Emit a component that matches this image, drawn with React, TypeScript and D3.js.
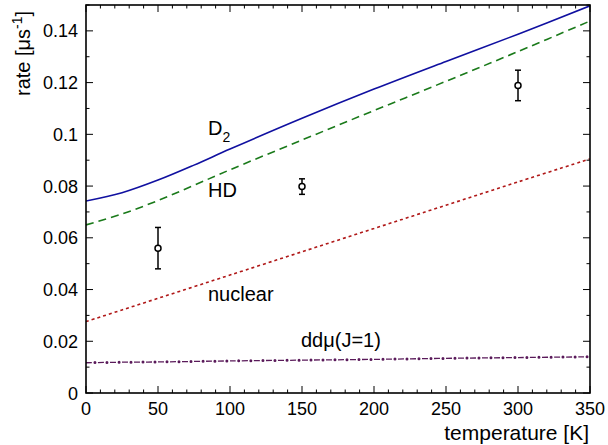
import React from "react";
import * as d3 from "d3";

const temps = [0, 25, 50, 75, 100, 150, 200, 250, 300, 350];
const d2Rate = [0.0742, 0.0774, 0.0823, 0.0881, 0.0943, 0.1062, 0.1175, 0.1282, 0.1387, 0.1497];
const hdRate = [0.0650, 0.0692, 0.0744, 0.0803, 0.0863, 0.0978, 0.1092, 0.1205, 0.1320, 0.1438];
const nuclearRate = [0.0276, 0.0321, 0.0366, 0.0411, 0.0456, 0.0546, 0.0636, 0.0726, 0.0816, 0.0905];
const ddmuRate = [0.0117, 0.0119, 0.0120, 0.0122, 0.0124, 0.0127, 0.0130, 0.0134, 0.0137, 0.0140];

const expT = [50, 150, 300];
const expRate = [0.056, 0.0798, 0.1189];
const expErr = [0.008, 0.003, 0.0059];

const xTicks = [0, 50, 100, 150, 200, 250, 300, 350];
const yTicks = [0, 0.02, 0.04, 0.06, 0.08, 0.1, 0.12, 0.14];

const W = 608, H = 445;
const L = 86, R = 590, T = 5, B = 393;
const FONT = "'Liberation Sans', Arial, Helvetica, sans-serif";

export default function App() {
  const x = d3.scaleLinear().domain([0, 350]).range([L, R]);
  const y = d3.scaleLinear().domain([0, 0.15]).range([B, T]);
  const mk = (vals: number[]) =>
    d3.line<number>().x((_, i) => x(temps[i])).y((v) => y(v)).curve(d3.curveCatmullRom)(vals) || "";

  const xMinor = d3.range(0, 351, 10);
  const yMinor = d3.range(0, 0.1501, 0.01);

  return (
    <svg width={W} height={H} style={{ position: "absolute", left: 0, top: 0, background: "#fff" }} fontFamily={FONT}>
      <defs>
        <clipPath id="plot">
          <rect x={L} y={T} width={R - L} height={B - T} />
        </clipPath>
      </defs>
      <g clipPath="url(#plot)">
        <path d={mk(nuclearRate)} fill="none" stroke="#b01818" strokeWidth={1.6} strokeDasharray="3 3" />
        <path d={mk(ddmuRate)} fill="none" stroke="#5a1a5a" strokeWidth={1.3} strokeDasharray="6 6" />
        <path d={mk(ddmuRate)} fill="none" stroke="#5a1a5a" strokeWidth={3} strokeLinecap="round" strokeDasharray="0 12" strokeDashoffset={-9} />
        <path d={mk(hdRate)} fill="none" stroke="#1a7a1a" strokeWidth={1.6} strokeDasharray="8 5" />
        <path d={mk(d2Rate)} fill="none" stroke="#1010a0" strokeWidth={1.6} />
      </g>
      {expT.map((t, i) => (
        <g key={i} stroke="#000" strokeWidth={1.5}>
          <line x1={x(t)} x2={x(t)} y1={y(expRate[i] + expErr[i])} y2={y(expRate[i] - expErr[i])} />
          <line x1={x(t) - 3} x2={x(t) + 3} y1={y(expRate[i] + expErr[i])} y2={y(expRate[i] + expErr[i])} />
          <line x1={x(t) - 3} x2={x(t) + 3} y1={y(expRate[i] - expErr[i])} y2={y(expRate[i] - expErr[i])} />
          <circle cx={x(t)} cy={y(expRate[i])} r={3} fill="#fff" />
        </g>
      ))}
      <g stroke="#000" strokeWidth={1}>
        {xMinor.map((v) => {
          const len = v % 50 === 0 ? 7 : 3.5;
          return (
            <g key={"x" + v}>
              <line x1={x(v)} x2={x(v)} y1={B} y2={B - len} />
              <line x1={x(v)} x2={x(v)} y1={T} y2={T + len} />
            </g>
          );
        })}
        {yMinor.map((v, i) => {
          const len = i % 2 === 0 ? 7 : 3.5;
          return (
            <g key={"y" + i}>
              <line x1={L} x2={L + len} y1={y(v)} y2={y(v)} />
              <line x1={R} x2={R - len} y1={y(v)} y2={y(v)} />
            </g>
          );
        })}
      </g>
      <rect x={L} y={T} width={R - L} height={B - T} fill="none" stroke="#000" strokeWidth={1.6} />
      {xTicks.map((v) => (
        <text key={v} x={x(v)} y={415} fontSize={18} textAnchor="middle" fill="#000">{v}</text>
      ))}
      {yTicks.map((v) => (
        <text key={v} x={78} y={y(v) + 6.5} fontSize={18} textAnchor="end" fill="#000">{String(+v.toFixed(2))}</text>
      ))}
      <text x={589} y={440} fontSize={21} textAnchor="end">temperature [K]</text>
      <text transform="translate(30,96) rotate(-90)" fontSize={20}>
        rate [μs<tspan dy={-8} fontSize={14}>-1</tspan><tspan dy={8}>]</tspan>
      </text>
      <text x={208} y={135} fontSize={20}>D<tspan dy={7} fontSize={14}>2</tspan></text>
      <text x={208} y={197} fontSize={20}>HD</text>
      <text x={208} y={301} fontSize={20}>nuclear</text>
      <text x={301} y={347} fontSize={20}>ddμ(J=1)</text>
    </svg>
  );
}
